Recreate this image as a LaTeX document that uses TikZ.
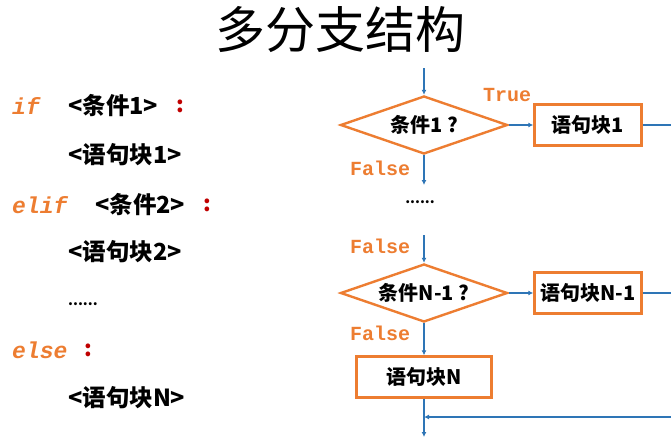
\documentclass[tikz,border=0pt]{standalone}
\usepackage{fontspec}
\newfontfamily\cjk{Noto Sans CJK SC}
\newfontfamily\codefont{Liberation Mono}
\usetikzlibrary{positioning, shapes.geometric, arrows.meta}
\definecolor{flowor}{HTML}{ED7D31}
\definecolor{flowbl}{HTML}{2E75B6}
\definecolor{colonred}{HTML}{C00000}
\tikzstyle{cond}=[
  diamond,
  aspect=2.9,
  minimum width=167pt,
  minimum height=58pt,
  inner sep=0pt,
  draw=flowor,
  line width=2.4pt,
  font={\cjk\bfseries\fontsize{20}{22}\selectfont}
]
\tikzstyle{block}=[
  rectangle,
  minimum width=107pt,
  minimum height=41pt,
  inner sep=0pt,
  draw=flowor,
  line width=2.4pt,
  font={\cjk\bfseries\fontsize{20}{22}\selectfont}
]
\tikzstyle{flow}=[
  draw=flowbl,
  line width=1.8pt,
  -{Latex[length=5pt,width=5pt]}
]
\tikzstyle{tf}=[
  text=flowor,
  font={\codefont\bfseries\fontsize{20}{22}\selectfont}
]
\tikzstyle{kw}=[
  anchor=west,
  inner sep=0pt,
  text=flowor,
  font={\codefont\bfseries\itshape\fontsize{23}{25}\selectfont}
]
\tikzstyle{code}=[
  anchor=west,
  inner sep=0pt,
  font={\cjk\bfseries\fontsize{23.5}{25}\selectfont}
]
\tikzstyle{colon}=[
  anchor=west,
  inner sep=0pt,
  text=colonred,
  font={\cjk\bfseries\fontsize{22}{24}\selectfont}
]

\begin{document}
\begin{tikzpicture}[x=1pt, y=-1pt]

\newcommand\MX{424}
\newcommand\RX{671}

\useasboundingbox[fill=white] (0,0) rectangle (671,439); %% page

\node (title) at (340,30) {\cjk\fontsize{50}{54}\selectfont 多分支结构};

%% code on the left
\node[kw] (kwif) at (12,106) {if};
\node[code] (c1) at (68,106) {<条件1>};
\node[colon] (col1) at (176,106) {:};
\node[code] (s1) at (68,155) {<语句块1>};
\node[kw] (kwelif) at (12,205) {elif};
\node[code] (c2) at (95,205) {<条件2>};
\node[colon] (col2) at (203,205) {:};
\node[code] (s2) at (68,252) {<语句块2>};
\node[code, font={\cjk\bfseries\fontsize{14}{16}\selectfont}] (cdots) at (68,304) {......};
\node[kw] (kwelse) at (12,350) {else};
\node[colon] (col3) at (84,350) {:};
\node[code] (sN) at (68,398) {<语句块N>};

%% flow chart
\node[cond] (d1) at (\MX,125) {条件1 ?};
\node[block] (b1) at (588,125) {语句块1};
\node[cond] (d2) at (\MX,293) {条件N-1 ?};
\node[block] (b2) at (588,293) {语句块N-1};
\node[block, minimum width=135pt] (bN) at (\MX,377) {语句块N};
\node[font={\cjk\bfseries\fontsize{14}{16}\selectfont}] (fdots) at (420,202) {......};

\coordinate (in1) at (\MX,68);
\coordinate (f1) at (\MX,185);
\coordinate (f2) at (\MX,235);
\coordinate (out) at (\MX,437);
\coordinate (r1) at (\RX,125);
\coordinate (r2) at (\RX,293);
\coordinate (back) at (\RX,417);
\coordinate (join) at (\MX,417);

\draw[flow] (in1) -- (d1.north);
\draw[flow] (d1.east) -- (b1.west);
\draw[flow, -] (b1.east) -- (r1);
\draw[flow] (d1.south) -- (f1);
\draw[flow] (f2) -- (d2.north);
\draw[flow] (d2.east) -- (b2.west);
\draw[flow, -] (b2.east) -- (r2);
\draw[flow] (d2.south) -- (bN.north);
\draw[flow] (bN.south) -- (out);
\draw[flow] (back) -- (join);

%% labels
\node[tf] (ltrue) at (507,95) {True};
\node[tf] (lf1) at (380,168) {False};
\node[tf] (lf2) at (380,246) {False};
\node[tf] (lf3) at (380,333) {False};

\end{tikzpicture}
\end{document}
